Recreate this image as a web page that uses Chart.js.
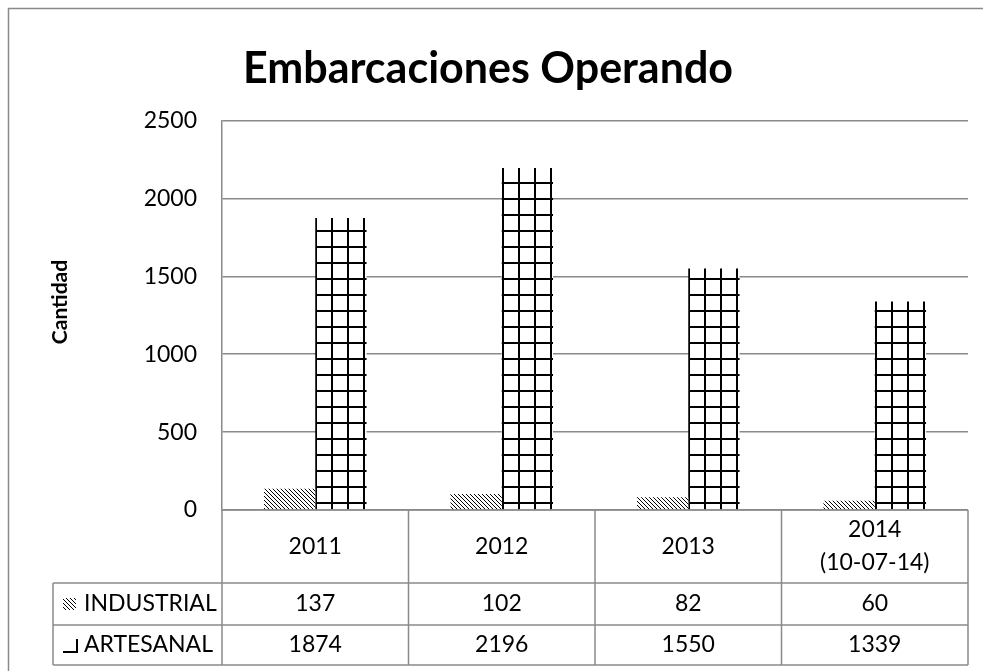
<!DOCTYPE html>
<html>
<head>
<meta charset="utf-8">
<script src="https://cdn.jsdelivr.net/npm/chart.js@4.4.1/dist/chart.umd.min.js"></script>
<style>
  html, body { margin: 0; padding: 0; background: #fff; }
  #wrap { width: 983px; height: 671px; }
</style>
</head>
<body>
<div id="wrap"><canvas id="chart"></canvas></div>
<script>
// chart data
const years = ['2011', '2012', '2013', ['2014', '(10-07-14)']];
const seriesNames = ['INDUSTRIAL', 'ARTESANAL'];
const industrial = [137, 102, 82, 60];
const artesanal = [1874, 2196, 1550, 1339];
const yMax = 2500;
const yStep = 500;

const FONT = 'Lato, "Open Sans", sans-serif';
const LINE = '#8a8a8a';

// fine "\" hatch used for INDUSTRIAL
function hatchPattern(ctx) {
    const c = document.createElement('canvas');
    c.width = 4; c.height = 4;
    const g = c.getContext('2d');
    g.fillStyle = '#fff';
    g.fillRect(0, 0, 4, 4);
    g.fillStyle = '#000';
    for (let i = 0; i < 4; i++) g.fillRect(i, i, 1, 1);
    return ctx.createPattern(c, 'repeat');
}

// large grid used for ARTESANAL, vertical lines start at the bar's left edge
function gridPattern(ctx, offsetX) {
    const c = document.createElement('canvas');
    c.width = 16; c.height = 16;
    const g = c.getContext('2d');
    g.fillStyle = '#fff';
    g.fillRect(0, 0, 16, 16);
    g.fillStyle = '#000';
    g.fillRect(0, 0, 2, 16);
    g.fillRect(0, 0, 16, 2);
    const p = ctx.createPattern(c, 'repeat');
    p.setTransform(new DOMMatrix().translate(offsetX, 6));
    return p;
}

const frame = {
    id: 'frame',
    beforeDraw(chart) {
        const ctx = chart.ctx;
        ctx.save();
        ctx.fillStyle = '#fff';
        ctx.fillRect(0, 0, chart.width, chart.height);
        ctx.strokeStyle = LINE;
        ctx.lineWidth = 1.5;
        ctx.strokeRect(8.5, 8.5, chart.width + 20, chart.height + 20);
        ctx.restore();
    },
    afterDraw(chart) {
        const ctx = chart.ctx;
        ctx.save();
        ctx.fillStyle = '#000';
        ctx.font = 'bold 21px ' + FONT;
        ctx.textAlign = 'center';
        ctx.textBaseline = 'middle';
        ctx.translate(60, 302);
        ctx.rotate(-Math.PI / 2);
        ctx.fillText('Cantidad', 0, 0);
        ctx.restore();
    }
};

const dataTable = {
    id: 'dataTable',
    afterDraw(chart) {
        const ctx = chart.ctx;
        const a = chart.chartArea;
        const x = chart.scales.x;
        const n = years.length;
        const half = (a.right - a.left) / n / 2;
        const keyLeft = 53;
        const rows = [a.bottom, a.bottom + 73, a.bottom + 115, a.bottom + 155];

        ctx.save();
        ctx.strokeStyle = LINE;
        ctx.lineWidth = 1.5;
        const line = (x1, y1, x2, y2) => {
            ctx.beginPath(); ctx.moveTo(x1, y1); ctx.lineTo(x2, y2); ctx.stroke();
        };
        line(a.left, rows[0], a.right, rows[0]);
        for (let r = 1; r < rows.length; r++) line(keyLeft, rows[r], a.right, rows[r]);
        line(keyLeft, rows[1], keyLeft, rows[3]);
        line(a.left, rows[0], a.left, rows[3]);
        for (let i = 0; i < n; i++) {
            const xr = x.getPixelForValue(i) + half;
            line(xr, rows[0], xr, rows[3]);
        }

        ctx.fillStyle = '#000';
        ctx.font = '23px ' + FONT;
        ctx.textAlign = 'center';
        ctx.textBaseline = 'middle';
        years.forEach((lab, i) => {
            const cx = x.getPixelForValue(i);
            const lines = Array.isArray(lab) ? lab : [lab];
            const mid = (rows[0] + rows[1]) / 2;
            lines.forEach((t, k) => {
                ctx.fillText(t, cx, mid + (k - (lines.length - 1) / 2) * 33);
            });
            ctx.fillText(String(industrial[i]), cx, (rows[1] + rows[2]) / 2);
            ctx.fillText(String(artesanal[i]), cx, (rows[2] + rows[3]) / 2);
        });

        // legend keys + names
        ctx.textAlign = 'left';
        const y1 = (rows[1] + rows[2]) / 2;
        const y2 = (rows[2] + rows[3]) / 2;
        ctx.fillStyle = hatchPattern(ctx);
        ctx.fillRect(63, y1 - 6, 13, 12);
        ctx.fillStyle = '#000';
        ctx.fillRect(63, y2 + 6, 15, 2);
        ctx.fillRect(76, y2 - 6, 2, 14);
        ctx.fillText(seriesNames[0], 84, y1);
        ctx.fillText(seriesNames[1], 84, y2);
        ctx.restore();
    }
};

const ctx = document.getElementById('chart').getContext('2d');
new Chart(ctx, {
    type: 'bar',
    data: {
        labels: years,
        datasets: [{
            label: seriesNames[0],
            data: industrial,
            backgroundColor: hatchPattern(ctx),
            borderWidth: 0
        }, {
            label: seriesNames[1],
            data: artesanal,
            backgroundColor: (c) => {
                const sx = c.chart.scales.x;
                if (!sx || c.dataIndex === undefined) return '#fff';
                return gridPattern(c.chart.ctx, Math.round(sx.getPixelForValue(c.dataIndex)));
            },
            borderWidth: 0
        }]
    },
    options: {
        responsive: true,
        maintainAspectRatio: false,
        animation: false,
        datasets: {
            bar: { categoryPercentage: 0.55, barPercentage: 1 }
        },
        layout: {
            padding: { top: 8, left: 8, right: 15, bottom: 161 }
        },
        scales: {
            x: {
                display: false
            },
            y: {
                min: 0,
                max: yMax,
                afterFit: (s) => { s.width = 214; },
                ticks: {
                    stepSize: yStep,
                    padding: 25,
                    color: '#000',
                    font: { family: FONT, size: 23 },
                    callback: (v) => String(v)
                },
                grid: { color: LINE, lineWidth: 1.5, drawTicks: false },
                border: { color: LINE, width: 1.5 }
            }
        },
        plugins: {
            legend: { display: false },
            tooltip: { enabled: false },
            title: {
                display: true,
                text: 'Embarcaciones Operando',
                color: '#000',
                font: { family: FONT, size: 43, weight: 'bold' },
                padding: { top: 35, bottom: 26 }
            }
        }
    },
    plugins: [frame, dataTable]
});
</script>
</body>
</html>
